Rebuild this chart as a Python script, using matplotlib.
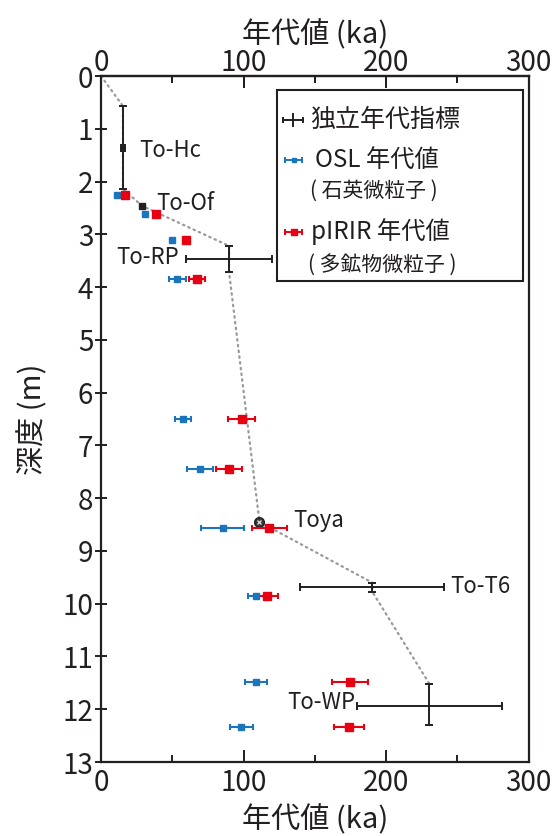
import numpy as np
import matplotlib
matplotlib.use('Agg')
import matplotlib.pyplot as plt
from matplotlib.lines import Line2D
from matplotlib.patches import Rectangle
from matplotlib.ticker import MultipleLocator, FixedLocator

plt.rcParams['font.family'] = ['Noto Sans CJK JP', 'DejaVu Sans']

# independent age markers (tephra), ka / m
tephra = ['To-Hc', 'To-Of', 'To-RP', 'Toya', 'To-T6', 'To-WP']
tephra_age = [15.4, 28.8, 89.9, 111.2, 190.3, 230.5]
tephra_age_err = [1.5, 0, 30.0, 0, 50.5, 50.6]
tephra_depth = [1.36, 2.46, 3.46, 8.45, 9.68, 11.93]
tephra_top = [0.57, 2.46, 3.22, 8.45, 9.60, 11.52]
tephra_bottom = [2.14, 2.46, 3.72, 8.45, 9.77, 12.29]

# luminescence samples
sample_depth = [2.25, 2.61, 3.11, 3.85, 6.50, 7.44, 8.56, 9.85, 11.49, 12.34]
osl_age = [11.0, 30.7, 49.7, 53.5, 57.7, 69.4, 85.4, 108.9, 108.7, 98.5]
osl_err = [0, 0, 0, 5.9, 5.6, 9.2, 15.0, 6.0, 7.6, 7.9]
pirir_age = [17.0, 38.9, 59.4, 67.3, 98.8, 89.9, 118.2, 116.4, 174.6, 174.2]
pirir_err = [0, 0, 0, 5.4, 9.4, 9.0, 12.3, 7.9, 12.7, 10.6]

age_ticks = [0, 100, 200, 300]

dark = '#231f20'
blue = '#1b75bc'
red = '#e60012'

W, H = 552, 836
fig = plt.figure(figsize=(W / 100, H / 100), dpi=100)
ax = fig.add_axes([101 / W, 1 - 762 / H, 427.5 / W, 686 / H])

def fx(x):
    return x / W

def fy(y):
    return 1 - y / H

# age-depth line through the tephra depth ranges
line_age = [0]
line_depth = [0]
for a, t, b in zip(tephra_age, tephra_top, tephra_bottom):
    line_age += [a, a]
    line_depth += [t, b]
line_age = line_age[:-1]
line_depth = line_depth[:-1]
ax.plot(line_age, line_depth, color='#9a9a9a', lw=1.6, ls=(0, (0.7, 1.9)),
        dash_capstyle='round', zorder=1)

ta = np.array(tephra_age)
td = np.array(tephra_depth)
terr = np.array(tephra_age_err)
ytop = td - np.array(tephra_top)
ybot = np.array(tephra_bottom) - td
has = (terr > 0) | (ytop > 0)
ax.errorbar(ta[has], td[has], xerr=terr[has], yerr=[ytop[has], ybot[has]],
            fmt='none', ecolor=dark, elinewidth=1.4, capsize=3, capthick=1.4, zorder=3)
ax.plot(ta[1], td[1], 's', color=dark, ms=4, zorder=4)
ax.plot(ta[3], td[3], 'o', mfc='#3a3a3a', mec=dark, ms=7, mew=1.0, zorder=4)
ax.plot(ta[3], td[3], 'x', color='#d0d0d0', ms=3.5, mew=1.0, zorder=5)

sd = np.array(sample_depth)
for age, err, col, ms in [(osl_age, osl_err, blue, 3.8), (pirir_age, pirir_err, red, 5.2)]:
    age = np.array(age)
    err = np.array(err)
    m = err > 0
    ax.errorbar(age[m], sd[m], xerr=err[m], fmt='none', ecolor=col,
                elinewidth=1.5, capsize=2.5, capthick=1.5, zorder=5)
    ax.plot(age, sd, 's', color=col, ms=ms, zorder=6)

# tephra labels
label_pos = {'To-Hc': ('c', 12, -2, 'left'), 'To-Of': ('c', 10, 2, 'left'),
             'To-RP': ('l', -5, 1, 'right'), 'Toya': ('c', 24.5, 1, 'left'),
             'To-T6': ('r', 4.3, 0, 'left'), 'To-WP': ('l', -1.5, 2, 'right')}
for name, a, e, d in zip(tephra, tephra_age, tephra_age_err, tephra_depth):
    where, dx, dy, ha = label_pos[name]
    x = a - e if where == 'l' else (a + e if where == 'r' else a)
    ax.annotate(name, (x, d), xytext=(dx, dy), textcoords='offset points',
                ha=ha, va='center', fontsize=16, color=dark)

ax.set_xlim(0, 300)
ax.set_ylim(13, 0)
ax.xaxis.set_major_locator(FixedLocator(age_ticks))
ax.xaxis.set_minor_locator(MultipleLocator(50))
ax.yaxis.set_major_locator(MultipleLocator(1))
ax.tick_params(axis='x', which='major', direction='in', length=8.5, width=1.4,
               colors=dark, labelsize=20, top=True, pad=4)
ax.tick_params(axis='x', which='minor', direction='in', length=5, width=1.4,
               colors=dark, top=True)
ax.tick_params(axis='y', direction='inout', length=9, width=1.4, colors=dark,
               labelsize=20, pad=1)
for s in ax.spines.values():
    s.set_linewidth(1.6)
    s.set_color(dark)

sec = ax.secondary_xaxis('top')
sec.xaxis.set_major_locator(FixedLocator(age_ticks))
sec.xaxis.set_minor_locator(FixedLocator([50, 150, 250]))
sec.tick_params(axis='x', which='major', direction='in', length=8.5, width=1.4,
                colors=dark, labelsize=20, pad=-1.5)
sec.tick_params(axis='x', which='minor', direction='in', length=5, width=1.4, colors=dark)
sec.spines['top'].set_linewidth(1.6)
sec.spines['top'].set_color(dark)
sec.set_xlabel('年代値 (ka)', fontsize=21, color=dark, labelpad=3.5)
ax.set_xlabel('年代値 (ka)', fontsize=21, color=dark, labelpad=5)
ax.set_ylabel('深度 (m)', fontsize=21, color=dark, labelpad=10)

# legend drawn by hand
fig.add_artist(Rectangle((fx(277), fy(281)), fx(523) - fx(277), fy(90) - fy(281),
                         transform=fig.transFigure, facecolor='white',
                         edgecolor=dark, lw=1.5, zorder=10))
def hline(y, col, x0, x1, lw=1.4):
    fig.add_artist(Line2D([fx(x0), fx(x1)], [fy(y), fy(y)], color=col, lw=lw,
                          transform=fig.transFigure, zorder=11))
    fig.add_artist(Line2D([fx(x0), fx(x1)], [fy(y), fy(y)], color=col, ls='none',
                          marker='|', ms=4, mew=lw, transform=fig.transFigure, zorder=11))
hline(120, dark, 283, 303)
fig.add_artist(Line2D([fx(293), fx(293)], [fy(114), fy(126)], color=dark, lw=1.4,
                      transform=fig.transFigure, zorder=11))
hline(160, blue, 285, 302)
fig.add_artist(Line2D([fx(293.5)], [fy(160)], color=blue, marker='s', ms=3,
                      transform=fig.transFigure, zorder=12))
hline(232, red, 285, 302)
fig.add_artist(Line2D([fx(293.5)], [fy(232)], color=red, marker='s', ms=4.5,
                      transform=fig.transFigure, zorder=12))
leg_kw = dict(va='center', ha='left', color=dark, zorder=12)
fig.text(fx(310), fy(120), '独立年代指標', fontsize=18, **leg_kw)
fig.text(fx(315), fy(160), 'OSL 年代値', fontsize=17.5, **leg_kw)
fig.text(fx(310), fy(191), '( 石英微粒子 )', fontsize=15, **leg_kw)
fig.text(fx(311), fy(232), 'pIRIR 年代値', fontsize=17.5, **leg_kw)
fig.text(fx(308), fy(266), '( 多鉱物微粒子 )', fontsize=15, **leg_kw)

fig.savefig('out.png', dpi=100)
